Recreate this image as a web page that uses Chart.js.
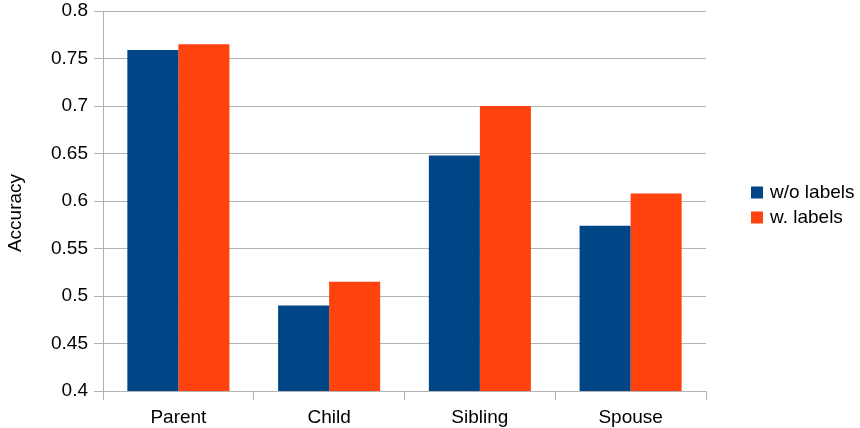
<!DOCTYPE html>
<html>
<head>
<meta charset="utf-8">
<script src="https://cdn.jsdelivr.net/npm/chart.js@4/dist/chart.umd.min.js"></script>
<style>
html,body{margin:0;padding:0;background:#fff;}
#wrap{width:860px;height:428px;}
</style>
</head>
<body>
<div id="wrap"><canvas id="c" width="860" height="428"></canvas></div>
<script>
const categories = ['Parent', 'Child', 'Sibling', 'Spouse'];
const seriesNames = ['w/o labels', 'w. labels'];
const withoutLabels = [0.759, 0.490, 0.648, 0.574];
const withLabels = [0.765, 0.515, 0.700, 0.608];
const yTickLabels = ['0.4', '0.45', '0.5', '0.55', '0.6', '0.65', '0.7', '0.75', '0.8'];
const axisTitle = 'Accuracy';

const FONT = 'Liberation Sans, Arial, sans-serif';
const GRID = '#b3b3b3';
const colors = ['#004586', '#ff420e'];

Chart.defaults.color = '#000';
Chart.defaults.font.family = FONT;
Chart.defaults.font.size = 19;

const legendPlugin = {
  id: 'customLegend',
  afterDraw(chart) {
    const ctx = chart.ctx;
    ctx.save();
    ctx.font = '19px ' + FONT;
    ctx.textBaseline = 'middle';
    ctx.textAlign = 'left';
    chart.data.datasets.forEach((ds, i) => {
      const cy = 192.5 + i * 25;
      ctx.fillStyle = ds.backgroundColor;
      ctx.fillRect(751, cy - 6, 12, 12);
      ctx.fillStyle = '#000';
      ctx.fillText(ds.label, 770, cy);
    });
    // y axis title, centred on the full chart height
    ctx.translate(15.5, chart.height / 2 - 1);
    ctx.rotate(-Math.PI / 2);
    ctx.textAlign = 'center';
    ctx.fillText(axisTitle, 0, 0);
    ctx.restore();
  }
};

new Chart(document.getElementById('c'), {
  type: 'bar',
  data: {
    labels: categories,
    datasets: [
      { label: seriesNames[0], data: withoutLabels, backgroundColor: colors[0], borderWidth: 0 },
      { label: seriesNames[1], data: withLabels, backgroundColor: colors[1], borderWidth: 0 }
    ]
  },
  options: {
    responsive: false,
    animation: false,
    devicePixelRatio: 1,
    layout: { padding: { left: 0, right: 154, top: 11, bottom: 0 } },
    datasets: { bar: { categoryPercentage: 0.677, barPercentage: 1.0 } },
    plugins: { legend: { display: false }, tooltip: { enabled: false } },
    scales: {
      x: {
        grid: {
          offset: true,
          color: (c) => (c.index === 0 || c.index === categories.length) ? GRID : 'rgba(0,0,0,0)',
          tickColor: GRID,
          tickLength: 9,
          lineWidth: 1
        },
        border: { color: GRID },
        ticks: { padding: 6, font: { size: 19, family: FONT }, color: '#000', maxRotation: 0 },
        afterFit: (s) => { s.height = 37; s.paddingLeft = 0; s.paddingRight = 0; }
      },
      y: {
        min: 0.4,
        max: 0.8,
        grid: { color: GRID, tickColor: GRID, tickLength: 9, lineWidth: 1 },
        border: { color: GRID },
        ticks: {
          stepSize: 0.05,
          padding: 6,
          font: { size: 19, family: FONT },
          color: '#000',
          callback: (v, i) => yTickLabels[i]
        },
        title: { display: false },
        afterFit: (s) => { s.width = 103; s.paddingTop = 0; s.paddingBottom = 0; }
      }
    }
  },
  plugins: [legendPlugin]
});
</script>
</body>
</html>
